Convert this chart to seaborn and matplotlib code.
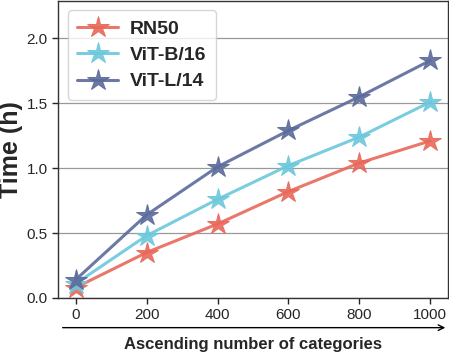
import matplotlib
matplotlib.use("Agg")
import matplotlib.pyplot as plt
import seaborn as sns
import pandas as pd

categories = [0, 200, 400, 600, 800, 1000]
rn50 = [0.08, 0.35, 0.57, 0.82, 1.04, 1.21]
vitb16 = [0.11, 0.48, 0.76, 1.02, 1.24, 1.51]
vitl14 = [0.14, 0.64, 1.01, 1.29, 1.55, 1.83]
names = ["RN50", "ViT-B/16", "ViT-L/14"]
colors = ["#E8685A", "#6CC8DB", "#5B6B9A"]

rows = []
for n, vals in zip(names, [rn50, vitb16, vitl14]):
    for c, v in zip(categories, vals):
        rows.append({"cat": c, "time": v, "model": n})
df = pd.DataFrame(rows)

sns.set_style("white")
plt.rcParams['font.family'] = ['Liberation Sans', 'DejaVu Sans']

fig = plt.figure(figsize=(4.49, 3.53), dpi=100)
ax = fig.add_axes([0.129, 0.156, 0.869, 0.842])
sns.lineplot(data=df, x="cat", y="time", hue="model", palette=colors,
             marker="*", markersize=16, linewidth=2.2, ax=ax,
             markeredgecolor=None, alpha=0.9)
for l in ax.lines:
    l.set_markeredgecolor(l.get_color())
ax.set_xlim(-50, 1050)
ax.set_ylim(0, 2.29)
ax.set_xticks(categories)
ax.set_yticks([0.0, 0.5, 1.0, 1.5, 2.0])
ax.set_yticklabels(["0.0", "0.5", "1.0", "1.5", "2.0"])
ax.yaxis.grid(True, color="#999999", linewidth=0.9)
ax.tick_params(axis="both", labelsize=11, length=4, width=1, direction="out", left=True, bottom=True)
for s in ax.spines.values():
    s.set_color("#333333")
    s.set_linewidth(1.0)
ax.set_xlabel("")
ax.set_ylabel("Time (h)", fontsize=18, fontweight="bold")
ax.yaxis.set_label_coords(-0.09, 0.5)
ax.annotate("", xy=(1.0, -0.10), xytext=(0.005, -0.10), xycoords="axes fraction",
            arrowprops=dict(arrowstyle="->", color="black", lw=1.0))
ax.text(0.5, -0.155, "Ascending number of categories", transform=ax.transAxes,
        ha="center", va="center", fontsize=12, fontweight="bold")
leg = ax.legend(loc="upper left", prop={"weight": "bold", "size": 14},
                frameon=True, fancybox=True, handlelength=2.1, handletextpad=0.6,
                borderpad=0.5, labelspacing=0.45, bbox_to_anchor=(0.0, 1.0))
leg.get_frame().set_edgecolor("#cccccc")
fig.savefig("out.png", dpi=100)
